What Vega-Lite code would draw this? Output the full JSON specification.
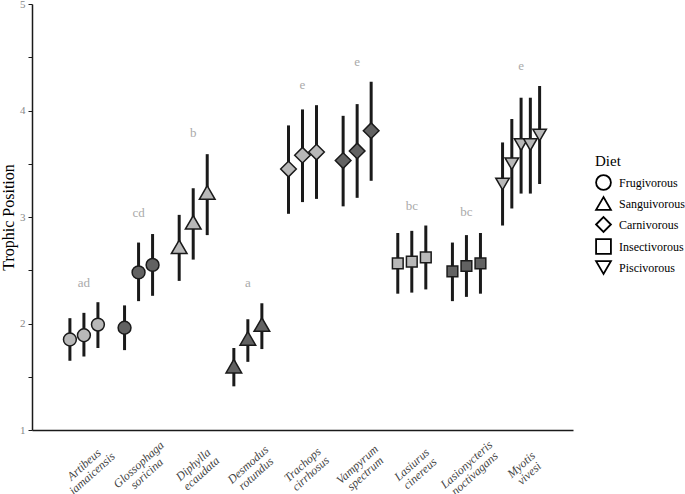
{
  "$schema": "https://vega.github.io/schema/vega-lite/v6.json",
  "width": 541,
  "height": 426,
  "autosize": {"type": "none"},
  "padding": {"left": 32, "top": 4, "right": 112, "bottom": 64},
  "background": "white",
  "config": {
    "view": {"stroke": null},
    "font": "Liberation Serif",
    "legend": {
      "orient": "none", "legendX": 563, "legendY": 150,
      "titleFontSize": 15, "titleFontWeight": "normal", "titleColor": "#000000", "titlePadding": 5,
      "labelFontSize": 12, "labelColor": "#000000", "labelOffset": 7,
      "symbolSize": 220, "symbolFillColor": "white", "symbolStrokeColor": "#000000", "symbolStrokeWidth": 1.8,
      "rowPadding": -1
    }
  },
  "datasets": {
    "tp": [
      {"species": "Artibeus jamaicensis", "diet": "Frugivorous", "rep": "1", "tp": 1.85, "lo": 1.65, "hi": 2.05},
      {"species": "Artibeus jamaicensis", "diet": "Frugivorous", "rep": "2", "tp": 1.89, "lo": 1.69, "hi": 2.10},
      {"species": "Artibeus jamaicensis", "diet": "Frugivorous", "rep": "3", "tp": 1.99, "lo": 1.77, "hi": 2.20},
      {"species": "Glossophaga soricina", "diet": "Frugivorous", "rep": "1", "tp": 1.96, "lo": 1.75, "hi": 2.17},
      {"species": "Glossophaga soricina", "diet": "Frugivorous", "rep": "2", "tp": 2.48, "lo": 2.21, "hi": 2.76},
      {"species": "Glossophaga soricina", "diet": "Frugivorous", "rep": "3", "tp": 2.55, "lo": 2.26, "hi": 2.84},
      {"species": "Diphylla ecaudata", "diet": "Sanguivorous", "rep": "1", "tp": 2.72, "lo": 2.40, "hi": 3.02},
      {"species": "Diphylla ecaudata", "diet": "Sanguivorous", "rep": "2", "tp": 2.95, "lo": 2.60, "hi": 3.27},
      {"species": "Diphylla ecaudata", "diet": "Sanguivorous", "rep": "3", "tp": 3.23, "lo": 2.83, "hi": 3.59},
      {"species": "Desmodus rotundus", "diet": "Sanguivorous", "rep": "1", "tp": 1.60, "lo": 1.41, "hi": 1.77},
      {"species": "Desmodus rotundus", "diet": "Sanguivorous", "rep": "2", "tp": 1.86, "lo": 1.64, "hi": 2.04},
      {"species": "Desmodus rotundus", "diet": "Sanguivorous", "rep": "3", "tp": 1.99, "lo": 1.76, "hi": 2.19},
      {"species": "Trachops cirrhosus", "diet": "Carnivorous", "rep": "1", "tp": 3.45, "lo": 3.03, "hi": 3.86},
      {"species": "Trachops cirrhosus", "diet": "Carnivorous", "rep": "2", "tp": 3.58, "lo": 3.14, "hi": 4.01},
      {"species": "Trachops cirrhosus", "diet": "Carnivorous", "rep": "3", "tp": 3.61, "lo": 3.17, "hi": 4.05},
      {"species": "Vampyrum spectrum", "diet": "Carnivorous", "rep": "1", "tp": 3.53, "lo": 3.10, "hi": 3.95},
      {"species": "Vampyrum spectrum", "diet": "Carnivorous", "rep": "2", "tp": 3.62, "lo": 3.18, "hi": 4.06},
      {"species": "Vampyrum spectrum", "diet": "Carnivorous", "rep": "3", "tp": 3.81, "lo": 3.34, "hi": 4.27},
      {"species": "Lasiurus cinereus", "diet": "Insectivorous", "rep": "1", "tp": 2.565, "lo": 2.28, "hi": 2.85},
      {"species": "Lasiurus cinereus", "diet": "Insectivorous", "rep": "2", "tp": 2.58, "lo": 2.29, "hi": 2.87},
      {"species": "Lasiurus cinereus", "diet": "Insectivorous", "rep": "3", "tp": 2.62, "lo": 2.32, "hi": 2.92},
      {"species": "Lasionycteris noctivagans", "diet": "Insectivorous", "rep": "1", "tp": 2.49, "lo": 2.21, "hi": 2.76},
      {"species": "Lasionycteris noctivagans", "diet": "Insectivorous", "rep": "2", "tp": 2.54, "lo": 2.25, "hi": 2.83},
      {"species": "Lasionycteris noctivagans", "diet": "Insectivorous", "rep": "3", "tp": 2.565, "lo": 2.28, "hi": 2.85},
      {"species": "Myotis vivesi", "diet": "Piscivorous", "rep": "1", "tp": 3.31, "lo": 2.92, "hi": 3.70},
      {"species": "Myotis vivesi", "diet": "Piscivorous", "rep": "2", "tp": 3.50, "lo": 3.08, "hi": 3.92},
      {"species": "Myotis vivesi", "diet": "Piscivorous", "rep": "3", "tp": 3.68, "lo": 3.22, "hi": 4.12},
      {"species": "Myotis vivesi", "diet": "Piscivorous", "rep": "4", "tp": 3.68, "lo": 3.22, "hi": 4.12},
      {"species": "Myotis vivesi", "diet": "Piscivorous", "rep": "5", "tp": 3.77, "lo": 3.31, "hi": 4.23}
    ],
    "letters": [
      {"species": "Artibeus jamaicensis", "letter": "ad", "y": 2.38},
      {"species": "Glossophaga soricina", "letter": "cd", "y": 3.04},
      {"species": "Diphylla ecaudata", "letter": "b", "y": 3.79},
      {"species": "Desmodus rotundus", "letter": "a", "y": 2.38},
      {"species": "Trachops cirrhosus", "letter": "e", "y": 4.24},
      {"species": "Vampyrum spectrum", "letter": "e", "y": 4.46},
      {"species": "Lasiurus cinereus", "letter": "bc", "y": 3.10},
      {"species": "Lasionycteris noctivagans", "letter": "bc", "y": 3.05},
      {"species": "Myotis vivesi", "letter": "e", "y": 4.42}
    ]
  },
  "layer": [
    {
      "data": {"name": "tp"},
      "transform": [{"filter": "datum.species !== 'Myotis vivesi'"}],
      "encoding": {
        "x": {
          "field": "species", "type": "nominal",
          "scale": {
            "domain": ["Artibeus jamaicensis", "Glossophaga soricina", "Diphylla ecaudata", "Desmodus rotundus", "Trachops cirrhosus", "Vampyrum spectrum", "Lasiurus cinereus", "Lasionycteris noctivagans", "Myotis vivesi"],
            "paddingInner": 0, "paddingOuter": 0.45
          },
          "axis": {
            "title": null, "ticks": false, "domainColor": "#1a1a1a", "domainWidth": 1.5,
            "labelAngle": -42, "labelAlign": "center", "labelBaseline": "middle", "labelPadding": 34,
            "labelFontStyle": "italic", "labelFontSize": 12, "labelColor": "#444444", "labelLineHeight": 12,
            "labelExpr": "split(datum.label, ' ')"
          }
        },
        "xOffset": {"field": "rep", "type": "nominal", "scale": {"paddingInner": 0, "paddingOuter": 0.45}}
      },
      "layer": [
        {
          "mark": {"type": "rule", "strokeWidth": 3, "color": "#1a1a1a"},
          "encoding": {
            "y": {"field": "lo", "type": "quantitative"},
            "y2": {"field": "hi"}
          }
        },
        {
          "mark": {"type": "point", "filled": true, "stroke": "#1a1a1a", "strokeWidth": 1.5, "opacity": 1},
          "encoding": {
            "y": {
              "field": "tp", "type": "quantitative",
              "scale": {"domain": [1, 5], "nice": false, "zero": false},
              "axis": {
                "title": "Trophic Position", "grid": false,
                "values": [1, 1.25, 1.5, 1.75, 2, 2.25, 2.5, 2.75, 3, 3.25, 3.5, 3.75, 4, 4.25, 4.5, 4.75, 5],
                "labelExpr": "datum.value % 1 === 0 ? format(datum.value, 'd') : ''",
                "labelOverlap": false, "tickSize": 4, "tickColor": "#1a1a1a", "tickWidth": 1,
                "domainColor": "#1a1a1a", "domainWidth": 1.5,
                "labelColor": "#888888", "labelFontSize": 11, "labelPadding": 3,
                "titleFontSize": 16, "titleFontWeight": "normal", "titleColor": "#000000", "titlePadding": 3
              }
            },
            "shape": {
              "field": "diet", "type": "nominal",
              "scale": {
                "domain": ["Frugivorous", "Sanguivorous", "Carnivorous", "Insectivorous", "Piscivorous"],
                "range": ["circle", "triangle-up", "diamond", "square", "triangle-down"]
              },
              "legend": {"title": "Diet"}
            },
            "size": {
              "field": "diet", "type": "ordinal",
              "scale": {
                "type": "ordinal",
                "domain": ["Carnivorous", "Frugivorous", "Insectivorous", "Piscivorous", "Sanguivorous"],
                "range": [245, 165, 115, 245, 245]
              },
              "legend": null
            },
            "fill": {
              "field": "species", "type": "nominal",
              "scale": {
                "domain": ["Artibeus jamaicensis", "Glossophaga soricina", "Diphylla ecaudata", "Desmodus rotundus", "Trachops cirrhosus", "Vampyrum spectrum", "Lasiurus cinereus", "Lasionycteris noctivagans", "Myotis vivesi"],
                "range": ["#b8b8b8", "#626262", "#b8b8b8", "#626262", "#b8b8b8", "#626262", "#b8b8b8", "#626262", "#b8b8b8"]
              },
              "legend": null
            }
          }
        }
      ]
    },
    {
      "data": {"name": "tp"},
      "transform": [{"filter": "datum.species === 'Myotis vivesi'"}],
      "encoding": {
        "x": {"field": "species", "type": "nominal"},
        "xOffset": {"field": "rep", "type": "nominal", "scale": {"paddingInner": 0, "paddingOuter": 0.45}}
      },
      "layer": [
        {
          "mark": {"type": "rule", "strokeWidth": 3, "color": "#1a1a1a"},
          "encoding": {
            "y": {"field": "lo", "type": "quantitative"},
            "y2": {"field": "hi"}
          }
        },
        {
          "mark": {"type": "point", "filled": true, "stroke": "#1a1a1a", "strokeWidth": 1.5, "opacity": 1},
          "encoding": {
            "y": {"field": "tp", "type": "quantitative"},
            "shape": {"field": "diet", "type": "nominal", "legend": {"title": "Diet"}},
            "size": {"field": "diet", "type": "ordinal", "legend": null},
            "fill": {"field": "species", "type": "nominal", "legend": null}
          }
        }
      ]
    },
    {
      "data": {"name": "letters"},
      "mark": {"type": "text", "color": "#aaaaaa", "fontSize": 13},
      "encoding": {
        "x": {"field": "species", "type": "nominal"},
        "y": {"field": "y", "type": "quantitative"},
        "text": {"field": "letter"}
      }
    }
  ],
  "resolve": {"scale": {"xOffset": "independent"}}
}
